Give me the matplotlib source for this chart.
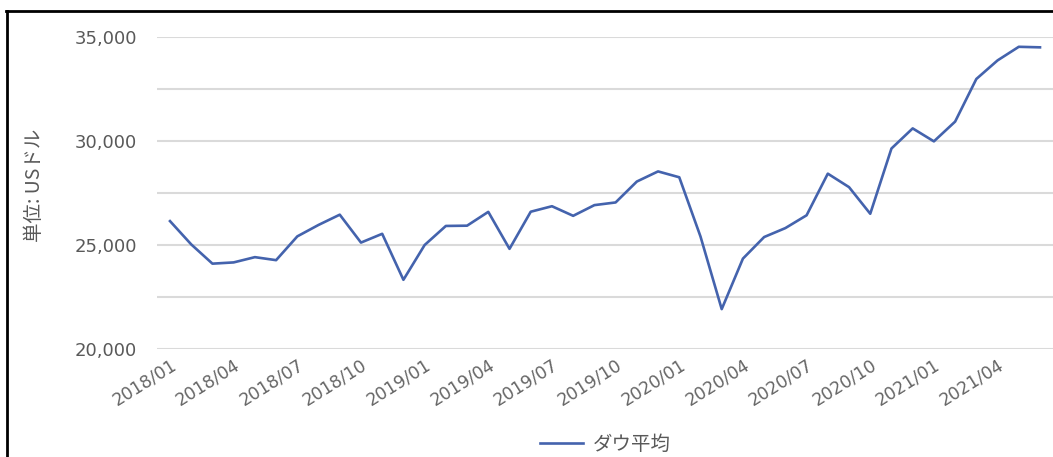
import numpy as np
import matplotlib
matplotlib.use("Agg")
import matplotlib.pyplot as plt
from matplotlib.lines import Line2D
from matplotlib.ticker import MultipleLocator, FuncFormatter

plt.rcParams['font.family'] = ['DejaVu Sans', 'Noto Sans CJK JP']

# 月末終値 (US$), 2018/01 - 2021/06
months = [f"{y}/{m:02d}" for y in range(2018, 2022) for m in range(1, 13)][:42]
dow = [26149, 25029, 24103, 24163, 24416, 24271, 25415, 25965, 26458, 25116, 25538, 23327,
       24999, 25916, 25929, 26593, 24815, 26600, 26864, 26403, 26917, 27046, 28051, 28538,
       28256, 25409, 21917, 24346, 25383, 25813, 26428, 28430, 27782, 26502, 29639, 30606,
       29983, 30932, 32982, 33875, 34529, 34503]
series_name = "ダウ平均"
ylabel = "単位: USドル"

fig = plt.figure(figsize=(10.53, 4.57), dpi=100)
ax = fig.add_axes([157 / 1053, 1 - 349 / 457, 896 / 1053, 312 / 457])

x = np.arange(len(dow))
line, = ax.plot(x, dow, color="#4463ad", lw=1.9, clip_on=False, label=series_name)

ax.set_ylim(20000, 35000)
ax.set_xlim(-13 / 21.22, len(dow) - 1 + 13 / 21.22)
ax.yaxis.set_major_locator(MultipleLocator(5000))
ax.yaxis.set_minor_locator(MultipleLocator(2500))
ax.yaxis.set_major_formatter(FuncFormatter(lambda v, p: f"{int(v):,}"))
ax.grid(axis="y", which="both", color="#dadada", lw=1.5)
ax.set_axisbelow(True)
for s in ax.spines.values():
    s.set_visible(False)
ax.tick_params(axis="both", which="both", length=0)
ax.tick_params(axis="y", labelsize=13, labelcolor="#595959", pad=14.5)

ax.set_xticks(x[::3])
ax.set_xticklabels(months[::3], rotation=32, ha="right", rotation_mode="anchor",
                   fontsize=12.5, color="#666666")
ax.tick_params(axis="x", pad=5)

fig.text(35 / 1053, 1 - 185 / 457, ylabel, rotation=90, ha="center", va="center",
         fontsize=14, color="#595959", family=["Noto Sans CJK JP", "DejaVu Sans"])

fig.legend(handles=[line], loc="center", bbox_to_anchor=(0.575, 1 - 444 / 457),
           frameon=False, prop={"family": ["Noto Sans CJK JP", "DejaVu Sans"], "size": 14},
           labelcolor="#595959", handlelength=2.2, handletextpad=0.5)

# 外枠 (左と上のみ見える)
fig.add_artist(Line2D([6.7 / 1053, 6.7 / 1053], [0, 1 - 10.7 / 457], color="black",
                      lw=2.0, transform=fig.transFigure))
fig.add_artist(Line2D([5.5 / 1053, 1], [1 - 10.7 / 457, 1 - 10.7 / 457], color="black",
                      lw=2.0, transform=fig.transFigure))

fig.savefig("out.png", dpi=100, facecolor="white")
